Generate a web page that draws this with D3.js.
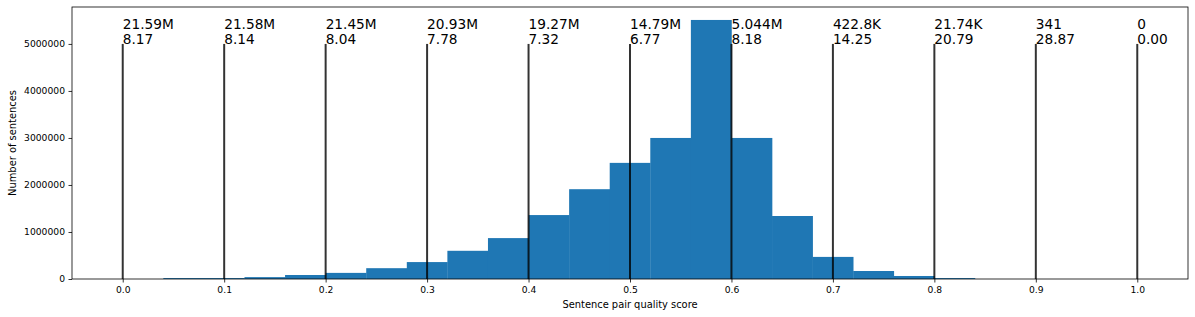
<!DOCTYPE html>
<html>
<head>
<meta charset="utf-8">
<script src="https://cdn.jsdelivr.net/npm/d3@7/dist/d3.min.js"></script>
<style>
  html, body { margin: 0; padding: 0; background: #fff; }
  svg { display: block; font-family: "DejaVu Sans", sans-serif; }
</style>
</head>
<body>
<svg id="chart" width="1195" height="317"></svg>
<script>
// Histogram bins (left edges) and counts
const binStarts = [0.04, 0.08, 0.12, 0.16, 0.20, 0.24, 0.28, 0.32, 0.36, 0.40,
                   0.44, 0.48, 0.52, 0.56, 0.60, 0.64, 0.68, 0.72, 0.76, 0.80];
const binWidth = 0.04;
const counts = [20000, 20000, 40000, 85000, 130000, 230000, 360000, 600000, 870000, 1360000,
                1910000, 2470000, 3000000, 5510000, 3000000, 1340000, 470000, 170000, 64000, 20000];

// Threshold lines and their annotations
const thresholds = [0.0, 0.1, 0.2, 0.3, 0.4, 0.5, 0.6, 0.7, 0.8, 0.9, 1.0];
const lineTop = 5000000;
const sizeLabels = ["21.59M", "21.58M", "21.45M", "20.93M", "19.27M", "14.79M", "5.044M", "422.8K", "21.74K", "341", "0"];
const ratioLabels = ["8.17", "8.14", "8.04", "7.78", "7.32", "6.77", "8.18", "14.25", "20.79", "28.87", "0.00"];

// Axis ticks
const xTicks = [0.0, 0.1, 0.2, 0.3, 0.4, 0.5, 0.6, 0.7, 0.8, 0.9, 1.0];
const yTicks = [0, 1000000, 2000000, 3000000, 4000000, 5000000];

(function () {
const svg = d3.select("#chart");
const mLeft = 72, mRight = 1188, mTop = 7, mBottom = 279;

const x = d3.scaleLinear().domain([-0.05, 1.05]).range([mLeft, mRight]);
const yMax = d3.max(counts) * 1.05;
const y = d3.scaleLinear().domain([0, yMax]).range([mBottom, mTop]);

// bars
svg.append("g").selectAll("rect")
  .data(binStarts.map((s, i) => ({ s, c: counts[i] })))
  .join("rect")
  .attr("x", d => x(d.s))
  .attr("width", d => x(d.s + binWidth) - x(d.s) + 0.3)
  .attr("y", d => y(d.c))
  .attr("height", d => y(0) - y(d.c))
  .attr("fill", "#1f77b4");

// vertical threshold lines
svg.append("g").selectAll("line")
  .data(thresholds)
  .join("line")
  .attr("x1", d => x(d)).attr("x2", d => x(d))
  .attr("y1", y(0)).attr("y2", y(lineTop))
  .attr("stroke", "#000")
  .attr("stroke-opacity", 0.8)
  .attr("stroke-width", 2);

// annotations
const ann = svg.append("g").attr("font-size", "13.7px").attr("fill", "#000");
thresholds.forEach((t, i) => {
  ann.append("text").attr("x", x(t)).attr("y", y(lineTop) - 15.4)
    .text(sizeLabels[i]);
  ann.append("text").attr("x", x(t)).attr("y", y(lineTop) - 0.3)
    .text(ratioLabels[i]);
});

// axes
const xAxis = d3.axisBottom(x).tickValues(xTicks).tickFormat(d3.format(".1f")).tickSize(3.5).tickPadding(3.5);
const yAxis = d3.axisLeft(y).tickValues(yTicks).tickFormat(d3.format("d")).tickSize(3.5).tickPadding(3.5);

const gx = svg.append("g").attr("transform", `translate(0,${mBottom})`).call(xAxis);
const gy = svg.append("g").attr("transform", `translate(${mLeft},0)`).call(yAxis);
[gx, gy].forEach(g => {
  g.select(".domain").remove();
  g.selectAll("line").attr("stroke", "#000").attr("stroke-width", 0.8);
  g.selectAll("text").attr("font-size", "9.2px").attr("fill", "#000")
    .attr("font-family", "DejaVu Sans, sans-serif");
});

// frame (spines)
svg.append("rect")
  .attr("x", mLeft).attr("y", mTop)
  .attr("width", mRight - mLeft).attr("height", mBottom - mTop)
  .attr("fill", "none").attr("stroke", "#000").attr("stroke-width", 0.8);

// axis labels
svg.append("text")
  .attr("x", (mLeft + mRight) / 2).attr("y", 307.5)
  .attr("text-anchor", "middle").attr("font-size", "9.9px")
  .text("Sentence pair quality score");

svg.append("text")
  .attr("transform", `translate(15.5,${(mTop + mBottom) / 2}) rotate(-90)`)
  .attr("text-anchor", "middle").attr("font-size", "9.9px")
  .text("Number of sentences");
})();
</script>
</body>
</html>
